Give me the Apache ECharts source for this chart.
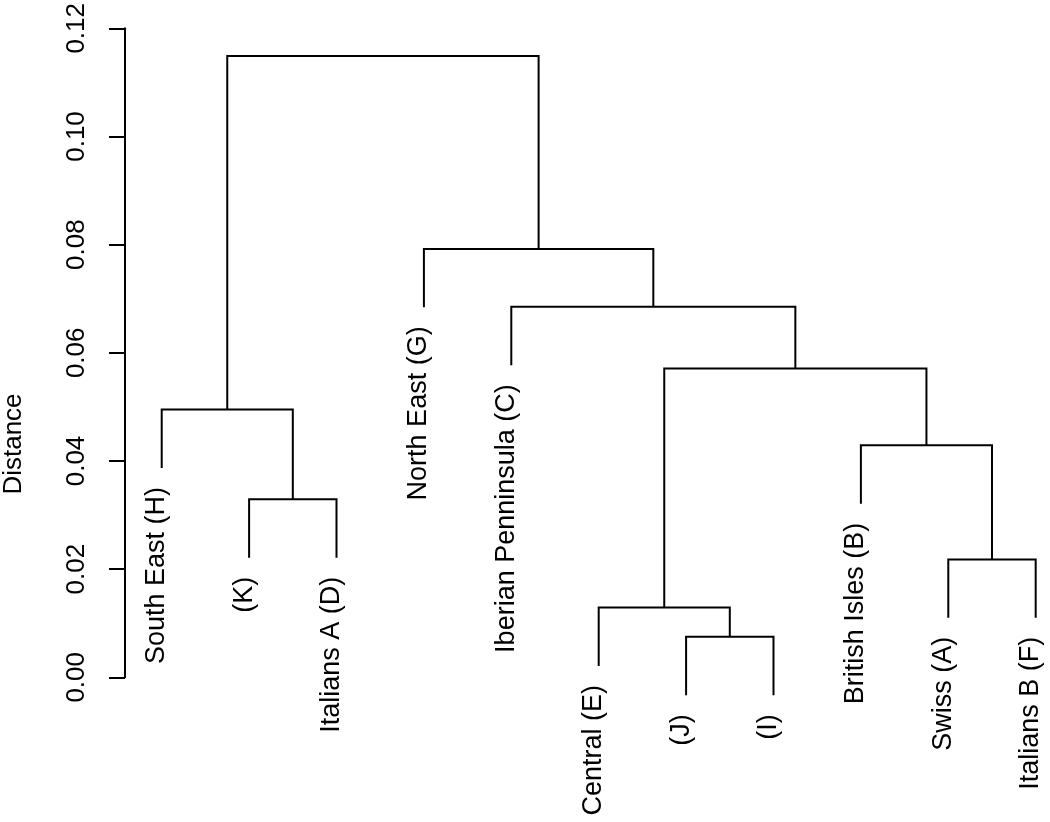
<!DOCTYPE html>
<html>
<head>
<meta charset="utf-8">
<title>Dendrogram</title>
<script src="https://cdn.jsdelivr.net/npm/echarts@6/dist/echarts.min.js"></script>
<style>
    html, body { margin: 0; padding: 0; background: #fff; }
    #chart { width: 1050px; height: 822px; }
</style>
</head>
<body>
<div id="chart"></div>
<script>
    // leaves, left to right as drawn
    var leafLabels = ['South East (H)', '(K)', 'Italians A (D)', 'North East (G)', 'Iberian Penninsula (C)',
        'Central (E)', '(J)', '(I)', 'British Isles (B)', 'Swiss (A)', 'Italians B (F)'];

    // merges, hclust style: negative = leaf number, positive = earlier merge
    var mergeLeft = [-7, -6, -10, -2, -9, -1, 2, -5, -4, 6];
    var mergeRight = [-8, 1, -11, -3, 3, 4, 5, 7, 8, 9];
    var mergeHeight = [0.0075, 0.0129, 0.0218, 0.0329, 0.0429, 0.0495, 0.0571, 0.0685, 0.0792, 0.1149];
    var hang = 0.0108;

    var yTicks = ['0.00', '0.02', '0.04', '0.06', '0.08', '0.10', '0.12'];

    var FONT = '"Liberation Sans", Arial, Helvetica, sans-serif';

    // build the branch segments from the merge table
    var nodeX = [];
    var segments = [];
    var leafEnds = [];

    function childPos(c, h) {
        if (c < 0) return [-c, h - hang];
        return [nodeX[c - 1], mergeHeight[c - 1]];
    }

    for (var i = 0; i < mergeHeight.length; i++) {
        var h = mergeHeight[i];
        var l = childPos(mergeLeft[i], h);
        var r = childPos(mergeRight[i], h);
        nodeX[i] = (l[0] + r[0]) / 2;
        segments.push([l[0], l[1], r[0], r[1], h]);
        [mergeLeft[i], mergeRight[i]].forEach(function (c) {
            if (c < 0) leafEnds.push([-c, h - hang, leafLabels[-c - 1]]);
        });
    }

    var chart = echarts.init(document.getElementById('chart'));
    chart.setOption({
        animation: false,
        backgroundColor: '#fff',
        grid: {
            left: 125,
            right: 1.2,
            top: 25,
            bottom: 144.7
        },
        xAxis: {
            type: 'value',
            min: 0.58,
            max: 11.15,
            show: false
        },
        yAxis: {
            type: 'value',
            min: 0,
            max: 0.12,
            interval: 0.02,
            splitLine: { show: false },
            axisLine: { show: true, lineStyle: { color: '#000', width: 2 } },
            axisTick: { show: true, length: 16, lineStyle: { color: '#000', width: 2 } },
            axisLabel: {
                rotate: 90,
                margin: 35,
                fontSize: 26,
                fontFamily: FONT,
                color: '#000',
                showMinLabel: true,
                showMaxLabel: true,
                formatter: function (v) {
                    return yTicks[Math.round(v / 0.02)];
                }
            }
        },
        graphic: [{
            type: 'text',
            x: 14,
            y: 444,
            rotation: Math.PI / 2,
            style: {
                text: 'Distance',
                font: '26px ' + FONT,
                fill: '#000',
                align: 'center',
                verticalAlign: 'middle'
            }
        }],
        series: [
            {
                type: 'custom',
                data: segments,
                renderItem: function (params, api) {
                    var p1 = api.coord([api.value(0), api.value(1)]);
                    var p2 = api.coord([api.value(0), api.value(4)]);
                    var p3 = api.coord([api.value(2), api.value(4)]);
                    var p4 = api.coord([api.value(2), api.value(3)]);
                    return {
                        type: 'polyline',
                        shape: { points: [p1, p2, p3, p4] },
                        style: { stroke: '#000', lineWidth: 2, fill: null }
                    };
                }
            },
            {
                type: 'custom',
                data: leafEnds.map(function (d) { return [d[0], d[1]]; }),
                renderItem: function (params, api) {
                    var p = api.coord([api.value(0), api.value(1)]);
                    return {
                        type: 'text',
                        x: p[0] - 5,
                        y: p[1] + 19,
                        rotation: Math.PI / 2,
                        style: {
                            text: leafEnds[params.dataIndex][2],
                            font: '27px ' + FONT,
                            fill: '#000',
                            align: 'right',
                            verticalAlign: 'middle'
                        }
                    };
                }
            }
        ]
    });
</script>
</body>
</html>
